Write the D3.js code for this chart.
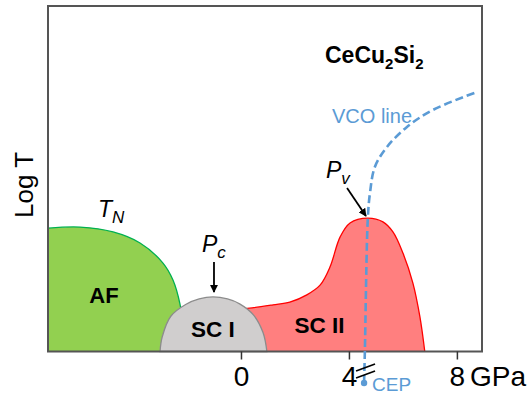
<!DOCTYPE html>
<html>
<head>
<meta charset="utf-8">
<script src="https://cdn.jsdelivr.net/npm/d3@7"></script>
<style>
  body { margin: 0; background: #fff; }
  text { font-family: Arial, "Liberation Sans", sans-serif; }
</style>
</head>
<body>
<svg id="chart" width="527" height="397"></svg>
<script>
// pressure in GPa, temperature in arbitrary log units (0..100 = plot height)
const tnP = [-7.15, -5.96, -4.74, -3.74, -2.89, -2.52, -2.26, -2.04];
const tnT = [35.7, 36.0, 34.6, 31.4, 25.6, 20.7, 13.7, 0];

const sc1P = [-3.0, -2.92, -2.6, -2.05, -1.55, -1.04, -0.5, -0.05, 0.46, 0.82, 0.96];
const sc1T = [0, 4.2, 10.2, 13.6, 15.2, 15.8, 15.2, 13.8, 10.6, 5.4, 0];

const sc2P = [0.0, 0.41, 1.19, 1.81, 2.44, 2.93, 3.30, 3.67, 4.04, 4.70, 5.26, 5.63, 6.0, 6.37, 6.63, 6.81];
const sc2T = [12.3, 12.6, 13.5, 14.3, 16.4, 19.2, 24.5, 33.1, 37.2, 38.6, 37.5, 34.6, 28.5, 19.8, 10.0, 0];

const vcoP = [4.56, 4.59, 4.70, 4.78, 4.96, 5.41, 6.15, 7.11, 8.74];
const vcoT = [-9.1, 0, 38.6, 45.9, 53.4, 59.2, 65.0, 69.9, 75.1];

const tickValues = [0, 4, 8];

// annotation arrows: [P0, T0, P1, T1]
const pcArrow = [-1.0, 25.9, -1.0, 17.2];
const pvArrow = [3.93, 47.3, 4.63, 39.2];

const svg = d3.select("#chart");
const plot = { left: 48, right: 482, top: 6, bottom: 351.5 };

const x = d3.scaleLinear().domain([-7.15, 8.93]).range([plot.left, plot.right]);
const y = d3.scaleLinear().domain([0, 100]).range([plot.bottom, plot.top]);

const pts = (ps, ts) => ps.map((p, i) => [p, ts[i]]);

svg.append("defs").append("marker")
  .attr("id", "head")
  .attr("viewBox", "0 0 10 10")
  .attr("refX", 9).attr("refY", 5)
  .attr("markerWidth", 4.5).attr("markerHeight", 4.5)
  .attr("markerUnits", "strokeWidth")
  .attr("orient", "auto")
  .append("path").attr("d", "M0,0L10,5L0,10z").attr("fill", "#000");

const area = d3.area()
  .x(d => x(d[0])).y0(y(0)).y1(d => y(d[1]))
  .curve(d3.curveCatmullRom.alpha(0.5));
const line = d3.line()
  .x(d => x(d[0])).y(d => y(d[1]))
  .curve(d3.curveCatmullRom.alpha(0.5));

// AF region
const af = pts(tnP, tnT);
svg.append("path").attr("d", area(af)).attr("fill", "#92d050");
svg.append("path").attr("d", line(af)).attr("fill", "none")
  .attr("stroke", "#00b050").attr("stroke-width", 1.3);

// SC II region
const sc2 = pts(sc2P, sc2T);
svg.append("path").attr("d", area(sc2)).attr("fill", "#ff7f7f");
svg.append("path").attr("d", line(sc2)).attr("fill", "none")
  .attr("stroke", "#ff0000").attr("stroke-width", 1.3);

// SC I dome
const sc1 = pts(sc1P, sc1T);
svg.append("path").attr("d", line(sc1) + "Z")
  .attr("fill", "#d0cece").attr("stroke", "#8c8c8c").attr("stroke-width", 1.3);

// frame
svg.append("rect")
  .attr("x", plot.left).attr("y", plot.top)
  .attr("width", plot.right - plot.left).attr("height", plot.bottom - plot.top)
  .attr("fill", "none").attr("stroke", "#555").attr("stroke-width", 2);

// axis
const axis = svg.append("g")
  .attr("transform", `translate(0,${plot.bottom})`)
  .call(d3.axisBottom(x).tickValues(tickValues).tickSize(8).tickSizeOuter(0));
axis.select(".domain").remove();
axis.selectAll(".tick line").attr("stroke", "#333").attr("stroke-width", 1.5);
axis.selectAll(".tick text")
  .attr("dy", null).attr("y", 34.5)
  .attr("font-size", 28).attr("font-family", "Arial, 'Liberation Sans', sans-serif")
  .attr("fill", "#000");
svg.append("text").attr("x", 470).attr("y", 386)
  .attr("font-size", 28).text("GPa");

// VCO line
svg.append("path").attr("d", line(pts(vcoP, vcoT)))
  .attr("fill", "none").attr("stroke", "#5b9bd5")
  .attr("stroke-width", 2.6).attr("stroke-dasharray", "8,4");
svg.append("circle")
  .attr("cx", x(vcoP[0])).attr("cy", y(vcoT[0])).attr("r", 3.2)
  .attr("fill", "#5b9bd5");

// axis break marks
const bx = x(vcoP[0]) + 1, by = y(vcoT[0]);
[-16, -9].forEach(off => {
  svg.append("line")
    .attr("x1", bx - 9).attr("y1", by + off + 4)
    .attr("x2", bx + 10).attr("y2", by + off - 3)
    .attr("stroke", "#000").attr("stroke-width", 1.6);
});

// arrows
[pcArrow, pvArrow].forEach(a => {
  svg.append("line")
    .attr("x1", x(a[0])).attr("y1", y(a[1]))
    .attr("x2", x(a[2])).attr("y2", y(a[3]))
    .attr("stroke", "#000").attr("stroke-width", 1.8)
    .attr("marker-end", "url(#head)");
});

// labels
svg.append("text")
  .attr("transform", "translate(33,185) rotate(-90)")
  .attr("text-anchor", "middle").attr("font-size", 26).text("Log T");

const formula = svg.append("text").attr("x", 325).attr("y", 63)
  .attr("font-size", 23).attr("font-weight", "bold");
formula.append("tspan").text("CeCu");
formula.append("tspan").attr("font-size", 15).attr("dy", 6).text("2");
formula.append("tspan").attr("dy", -6).text("Si");
formula.append("tspan").attr("font-size", 15).attr("dy", 6).text("2");

svg.append("text").attr("x", 332).attr("y", 123)
  .attr("font-size", 20).attr("fill", "#5b9bd5").text("VCO line");
svg.append("text").attr("x", 372).attr("y", 391)
  .attr("font-size", 19).attr("fill", "#5b9bd5").text("CEP");

const bold = [["AF", 104, 303, 22], ["SC I", 213, 337, 22.5], ["SC II", 319.5, 333, 22.5]];
bold.forEach(([t, lx, ly, fs]) => {
  svg.append("text").attr("x", lx).attr("y", ly)
    .attr("text-anchor", "middle").attr("font-size", fs)
    .attr("font-weight", "bold").text(t);
});

const italics = [["T", "N", 98, 217], ["P", "c", 202, 252], ["P", "v", 326, 178]];
italics.forEach(([main, sub, lx, ly]) => {
  const t = svg.append("text").attr("x", lx).attr("y", ly)
    .attr("font-size", 23).attr("font-style", "italic");
  t.append("tspan").text(main);
  t.append("tspan").attr("font-size", 17).attr("dy", 6).text(sub);
});
</script>
</body>
</html>
